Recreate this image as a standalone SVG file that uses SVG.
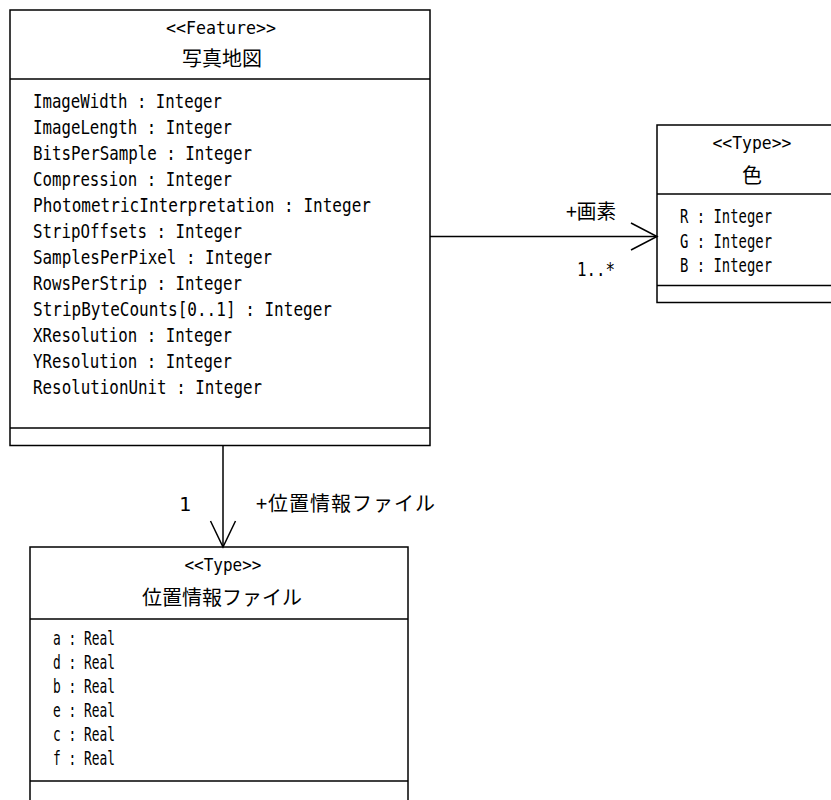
<svg xmlns="http://www.w3.org/2000/svg" width="831" height="800" viewBox="0 0 831 800">
<style>
.box{fill:#fff;stroke:#000;stroke-width:1.5}
.div{stroke:#000;stroke-width:1.5}
.mono{font-family:"DejaVu Sans Mono","Liberation Mono",monospace;font-size:20px;fill:#000}
.ster{font-family:"DejaVu Sans Mono","Liberation Mono",monospace;font-size:18px;fill:#000;text-anchor:middle}
.cjk{font-family:"Noto Sans CJK JP","Noto Sans",sans-serif;font-size:20px;fill:#000}
.mid{text-anchor:middle}
.conn{stroke:#000;stroke-width:1.5;fill:none}
</style>
<rect width="831" height="800" fill="#fff"/>
<g id="shashin-chizu">
<rect class="box" x="10" y="10" width="420" height="435.5"/>
<line class="div" x1="10" y1="79" x2="430" y2="79"/>
<line class="div" x1="10" y1="428" x2="430" y2="428"/>
<text class="ster" x="221" y="34" textLength="110" lengthAdjust="spacingAndGlyphs">&lt;&lt;Feature&gt;&gt;</text>
<text class="cjk mid" x="222" y="66">写真地図</text>
<text class="mono" x="33" y="108" textLength="189" lengthAdjust="spacingAndGlyphs">ImageWidth : Integer</text>
<text class="mono" x="33" y="134" textLength="199" lengthAdjust="spacingAndGlyphs">ImageLength : Integer</text>
<text class="mono" x="33" y="160" textLength="219" lengthAdjust="spacingAndGlyphs">BitsPerSample : Integer</text>
<text class="mono" x="33" y="186" textLength="199" lengthAdjust="spacingAndGlyphs">Compression : Integer</text>
<text class="mono" x="33" y="212" textLength="338" lengthAdjust="spacingAndGlyphs">PhotometricInterpretation : Integer</text>
<text class="mono" x="33" y="238" textLength="209" lengthAdjust="spacingAndGlyphs">StripOffsets : Integer</text>
<text class="mono" x="33" y="264" textLength="239" lengthAdjust="spacingAndGlyphs">SamplesPerPixel : Integer</text>
<text class="mono" x="33" y="290" textLength="209" lengthAdjust="spacingAndGlyphs">RowsPerStrip : Integer</text>
<text class="mono" x="33" y="316" textLength="299" lengthAdjust="spacingAndGlyphs">StripByteCounts[0..1] : Integer</text>
<text class="mono" x="33" y="342" textLength="199" lengthAdjust="spacingAndGlyphs">XResolution : Integer</text>
<text class="mono" x="33" y="368" textLength="199" lengthAdjust="spacingAndGlyphs">YResolution : Integer</text>
<text class="mono" x="33" y="394" textLength="229" lengthAdjust="spacingAndGlyphs">ResolutionUnit : Integer</text>
</g>
<g id="iro">
<rect class="box" x="657" y="125" width="200" height="177.5"/>
<line class="div" x1="657" y1="194" x2="857" y2="194"/>
<line class="div" x1="657" y1="285.5" x2="857" y2="285.5"/>
<text class="ster" x="752" y="149" textLength="79" lengthAdjust="spacingAndGlyphs">&lt;&lt;Type&gt;&gt;</text>
<text class="cjk mid" x="752" y="183">色</text>
<text class="mono" x="680" y="223" textLength="92" lengthAdjust="spacingAndGlyphs">R : Integer</text>
<text class="mono" x="680" y="247.5" textLength="92" lengthAdjust="spacingAndGlyphs">G : Integer</text>
<text class="mono" x="680" y="272" textLength="92" lengthAdjust="spacingAndGlyphs">B : Integer</text>
</g>
<g id="ichi-joho-file">
<rect class="box" x="30" y="547" width="378" height="270"/>
<line class="div" x1="30" y1="619" x2="408" y2="619"/>
<line class="div" x1="30" y1="781" x2="408" y2="781"/>
<text class="ster" x="223" y="571" textLength="77" lengthAdjust="spacingAndGlyphs">&lt;&lt;Type&gt;&gt;</text>
<text class="cjk mid" x="222" y="605">位置情報ファイル</text>
<text class="mono" x="53" y="645" textLength="62" lengthAdjust="spacingAndGlyphs">a : Real</text>
<text class="mono" x="53" y="669" textLength="62" lengthAdjust="spacingAndGlyphs">d : Real</text>
<text class="mono" x="53" y="693" textLength="62" lengthAdjust="spacingAndGlyphs">b : Real</text>
<text class="mono" x="53" y="717" textLength="62" lengthAdjust="spacingAndGlyphs">e : Real</text>
<text class="mono" x="53" y="741" textLength="62" lengthAdjust="spacingAndGlyphs">c : Real</text>
<text class="mono" x="53" y="765" textLength="62" lengthAdjust="spacingAndGlyphs">f : Real</text>
</g>
<g id="connectors">
<line class="conn" x1="430" y1="236.5" x2="657" y2="236.5"/>
<polyline class="conn" points="631,223 657,236.5 631,250"/>
<line class="conn" x1="223" y1="445.5" x2="223" y2="547"/>
<polyline class="conn" points="210.5,521 223,547 235.5,521"/>
<text class="cjk" x="566" y="219" textLength="50" lengthAdjust="spacingAndGlyphs">+画素</text>
<text class="mono" x="577" y="276" textLength="38" lengthAdjust="spacingAndGlyphs">1..*</text>
<text class="mono" x="179" y="511">1</text>
<text class="cjk" x="256" y="511" textLength="179" lengthAdjust="spacing">+位置情報ファイル</text>
</g>
</svg>
